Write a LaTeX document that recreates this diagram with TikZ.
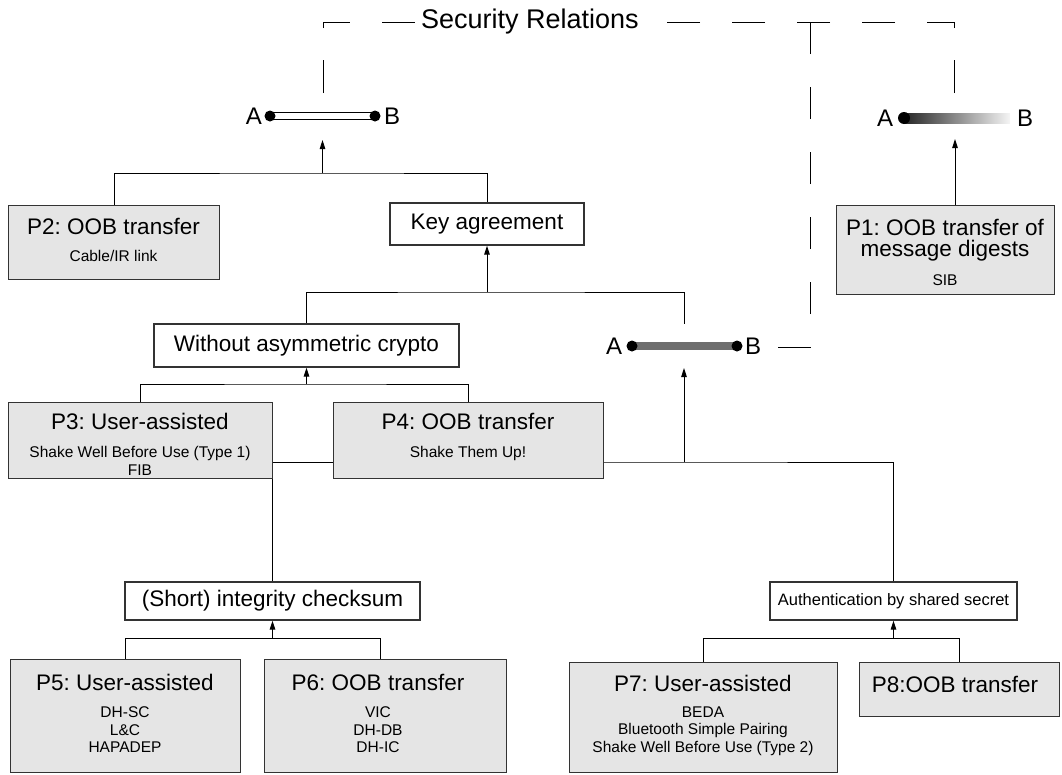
\documentclass[tikz,border=0pt]{standalone}
\usepackage{fontspec}
\setmainfont{Liberation Sans}
\usetikzlibrary{arrows.meta}
\pgfdeclarelayer{bg}
\pgfsetlayers{bg,main}
\definecolor{boxgray}{HTML}{E5E5E5}
\definecolor{bord}{HTML}{333333}
\definecolor{barmid}{HTML}{6E6E6E}
\frenchspacing
\begin{document}
\begin{tikzpicture}[x=1pt,y=-1pt,
  pbox/.style={draw=bord, line width=1.3pt, fill=boxgray, anchor=north west, inner sep=0pt},
  wbox/.style={draw=bord, line width=1.3pt, fill=white, inner sep=0pt, font=\fontsize{22.5}{26}\selectfont},
  ttl/.style={font=\fontsize{22.5}{26}\selectfont, inner sep=0pt},
  sub/.style={font=\fontsize{15.5}{17.5}\selectfont, align=center, inner sep=0pt},
  ablab/.style={font=\fontsize{24}{28}\selectfont, inner sep=0pt},
  conn/.style={line width=1pt},
  arr/.style={line width=1pt, -{Triangle[length=9pt,width=5.5pt]}},
  dashln/.style={line width=1pt, dash pattern=on 33pt off 32pt},
  dot/.style={circle, fill=black, inner sep=0pt, minimum size=11pt}
]
\useasboundingbox (0,0) rectangle (1062,774);

% ---------- dashed frame ----------
\coordinate (d1) at (323,93);
\coordinate (c1) at (323,22);
\coordinate (tm) at (530,22);
\coordinate (c2) at (954,22);
\coordinate (d2) at (954,93);
\coordinate (d3) at (778,347);
\coordinate (c4) at (810,347);
\coordinate (c3) at (810,22);
\begin{pgfonlayer}{bg}
\draw[dashln] (d1) -- (c1) -- (tm);
\draw[dashln] (d2) -- (c2) -- (tm);
\draw[dashln, dash pattern=on 32pt off 33pt] (d3) -- (c4) -- (c3);
\end{pgfonlayer}
\node[font=\fontsize{27}{30}\selectfont, fill=white, inner xsep=2pt, inner ysep=0pt] (title) at (tm) {Security Relations};

% ---------- symbol 1 (white bar) ----------
\draw[line width=1pt, fill=white] (270,112.5) rectangle (375,119.5);
\node[dot] (s1a) at (270,116) {};
\node[dot] (s1bb) at (375,116) {};
\node[ablab] (s1A) at (254,116) {A};
\node[ablab] (s1B) at (392,116) {B};
\coordinate (s1b) at (322.5,140);

% ---------- symbol 2 (gradient bar) ----------
\shade[left color=black!85, right color=black!4] (904,113) rectangle (1010,123);
\node[dot, minimum size=12pt] (s2a) at (904,118) {};
\node[ablab] (s2A) at (885,118) {A};
\node[ablab] (s2B) at (1025,118) {B};
\coordinate (s2b) at (955,139);

% ---------- symbol 3 (grey bar) ----------
\fill[barmid] (632,342) rectangle (737,350);
\node[dot] (s3a) at (632,346) {};
\node[dot] (s3bb) at (737,346) {};
\node[ablab] (s3A) at (614,346) {A};
\node[ablab] (s3B) at (753,346) {B};
\coordinate (s3t) at (684,324);
\coordinate (s3b) at (684,368);

% ---------- boxes ----------
\node[pbox, minimum width=211pt, minimum height=74pt] (p2) at (8,205) {};
\node[ttl] (p2t) at (113.5,226) {P2: OOB transfer};
\node[sub] (p2s) at (113.5,256) {Cable/IR link};

\node[wbox, minimum width=194pt, minimum height=42pt] (ka) at (487,224) {Key agreement};

\node[pbox, minimum width=218pt, minimum height=89pt] (p1) at (836,205) {};
\node[ttl] (p1t1) at (945,227) {P1: OOB transfer of};
\node[ttl] (p1t2) at (945,251) {message digests};
\node[sub] (p1s) at (945,280) {SIB};
\coordinate (p1n) at (955,205);

\node[wbox, minimum width=305pt, minimum height=43pt] (wac) at (306.5,345.5) {Without asymmetric crypto};

\node[pbox, minimum width=264pt, minimum height=76pt] (p3) at (8,402) {};
\node[ttl] (p3t) at (140,421) {P3: User-assisted};
\node[sub] (p3s) at (140,461) {Shake Well Before Use (Type 1)\\FIB};

\node[pbox, minimum width=270pt, minimum height=76pt] (p4) at (333,402) {};
\node[ttl] (p4t) at (468,421) {P4: OOB transfer};
\node[sub] (p4s) at (468,453) {Shake Them Up!};

\node[wbox, minimum width=295pt, minimum height=38pt] (sic) at (272.5,601) {(Short) integrity checksum};
\node[wbox, minimum width=247pt, minimum height=38pt, font=\fontsize{16.5}{20}\selectfont] (abss) at (893.5,601) {Authentication by shared secret};

\node[pbox, minimum width=230pt, minimum height=113pt] (p5) at (10,659) {};
\node[ttl] (p5t) at (125,682) {P5: User-assisted};
\node[sub] (p5s) at (125,730) {DH-SC\\L\&C\\HAPADEP};

\node[pbox, minimum width=242pt, minimum height=113pt] (p6) at (264,659) {};
\node[ttl] (p6t) at (378,682) {P6: OOB transfer};
\node[sub] (p6s) at (378,730) {VIC\\DH-DB\\DH-IC};

\node[pbox, minimum width=268pt, minimum height=110pt] (p7) at (569,662) {};
\node[ttl] (p7t) at (703,683) {P7: User-assisted};
\node[sub] (p7s) at (703,731) {BEDA\\Bluetooth Simple Pairing\\Shake Well Before Use (Type 2)};

\node[pbox, minimum width=200pt, minimum height=54pt] (p8) at (859,662) {};
\node[ttl] (p8t) at (955,684) {P8:OOB transfer};

% ---------- connectors (behind the boxes) ----------
\coordinate (j1) at (322.5,173);
\coordinate (j2) at (487,292);
\coordinate (j3) at (306.5,384);
\coordinate (j4) at (684,462);
\coordinate (j5) at (272.5,638);
\coordinate (p6n) at (380,659);
\coordinate (j6) at (893.5,638);
\begin{pgfonlayer}{bg}
\draw[conn] (p2.north) |- (j1) -| (ka.north);
\draw[arr] (j1) -- (s1b);
\draw[arr] (p1n) -- (s2b);
\draw[conn] (wac.north) |- (j2) -| (s3t);
\draw[arr] (j2) -- (ka.south);
\draw[conn] (p3.north) |- (j3) -| (p4.north);
\draw[arr] (j3) -- (wac.south);
\draw[conn] (sic.north) |- (j4) -| (abss.north);
\draw[arr] (j4) -- (s3b);
\draw[conn] (p5.north) |- (j5) -| (p6n);
\draw[arr] (j5) -- (sic.south);
\draw[conn] (p7.north) |- (j6) -| (p8.north);
\draw[arr] (j6) -- (abss.south);
\end{pgfonlayer}
\end{tikzpicture}
\end{document}
